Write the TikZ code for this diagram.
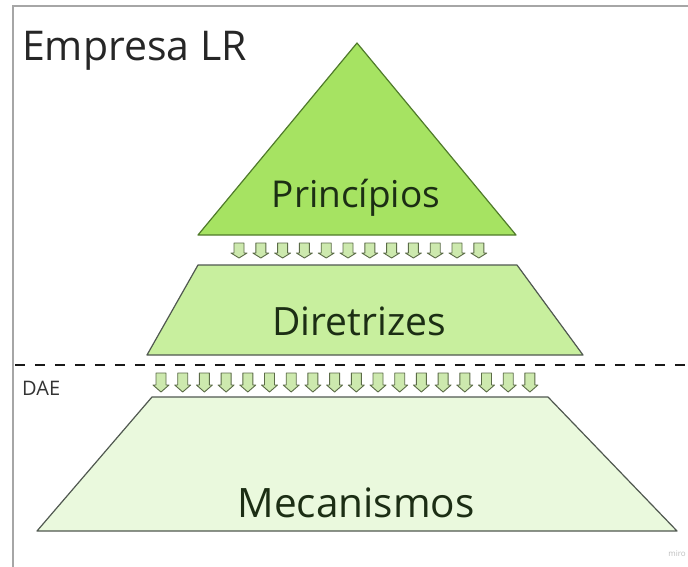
\documentclass[tikz,border=0pt]{standalone}
\usepackage{fontspec}
\setmainfont{Open Sans}
\definecolor{trifill}{HTML}{A6E362}
\definecolor{tristroke}{HTML}{4F7A2A}
\definecolor{midfill}{HTML}{C8EF9E}
\definecolor{lowfill}{HTML}{EAF9DD}
\definecolor{edgegray}{HTML}{505850}
\definecolor{arrfill}{HTML}{CDE9AE}
\definecolor{arrstroke}{HTML}{5B6B47}
\definecolor{txtdark}{HTML}{1C2E14}
\tikzset{
  frameline/.style={draw=gray!70, line width=1.5pt},
  tri/.style={fill=trifill, draw=tristroke, line width=1.2pt, line join=round},
  midtrap/.style={fill=midfill, draw=edgegray, line width=1.2pt, line join=round},
  lowtrap/.style={fill=lowfill, draw=edgegray, line width=1.2pt, line join=round},
  arrowshape/.style={fill=arrfill, draw=arrstroke, line width=0.9pt, line join=round},
  bigtext/.style={text=txtdark, anchor=base, inner sep=0pt},
  divider/.style={draw=black!90, line width=2.6pt, dash pattern=on 10pt off 10pt},
  pics/downarrow/.style args={#1/#2}{code={
    \path[arrowshape] (-5,0) -- (5,0) -- (5,#1) -- (8,#1) -- (0,#2) -- (-8,#1) -- (-5,#1) -- cycle;
  }}
}
\begin{document}
\begin{tikzpicture}[x=1pt,y=-1pt]
\useasboundingbox (0,0) rectangle (688,567);
\fill[white] (0,0) rectangle (688,567);
% frame
\draw[frameline] (13,567) -- (13,6) -- (688,6);
% title
\node[font=\fontsize{41}{43}\selectfont, text=black!85, anchor=base west, inner sep=0pt] (title) at (22,61) {Empresa LR};
% shapes
\path[tri] (357,43) -- (516,235) -- (198,235) -- cycle;
\path[midtrap] (198,265) -- (517,265) -- (583,355) -- (147,355) -- cycle;
\path[lowtrap] (152,397) -- (548,397) -- (677,531) -- (37,531) -- cycle;
% arrows row 1
\foreach \i in {0,...,11} {
  \pic at ({239+\i*21.8},243) {downarrow={10/15}};
}
% divider
\draw[divider] (15,365) -- (688,365);
% arrows row 2
\foreach \i in {0,...,17} {
  \pic at ({161+\i*21.7},373) {downarrow={12/19}};
}
% labels
\node[bigtext, font=\fontsize{37}{39}\selectfont] (principios) at (356,207) {Princípios};
\node[bigtext, font=\fontsize{39}{41}\selectfont] (diretrizes) at (359,335) {Diretrizes};
\node[bigtext, font=\fontsize{40.5}{42}\selectfont] (mecanismos) at (356,517) {Mecanismos};
\node[font=\fontsize{20}{22}\selectfont, text=black!80, anchor=base west, inner sep=0pt] (dae) at (22,395) {DAE};
\node[font=\fontsize{8}{9}\selectfont, text=black!25, anchor=base east, inner sep=0pt] (miro) at (686,556) {miro};
\end{tikzpicture}
\end{document}
